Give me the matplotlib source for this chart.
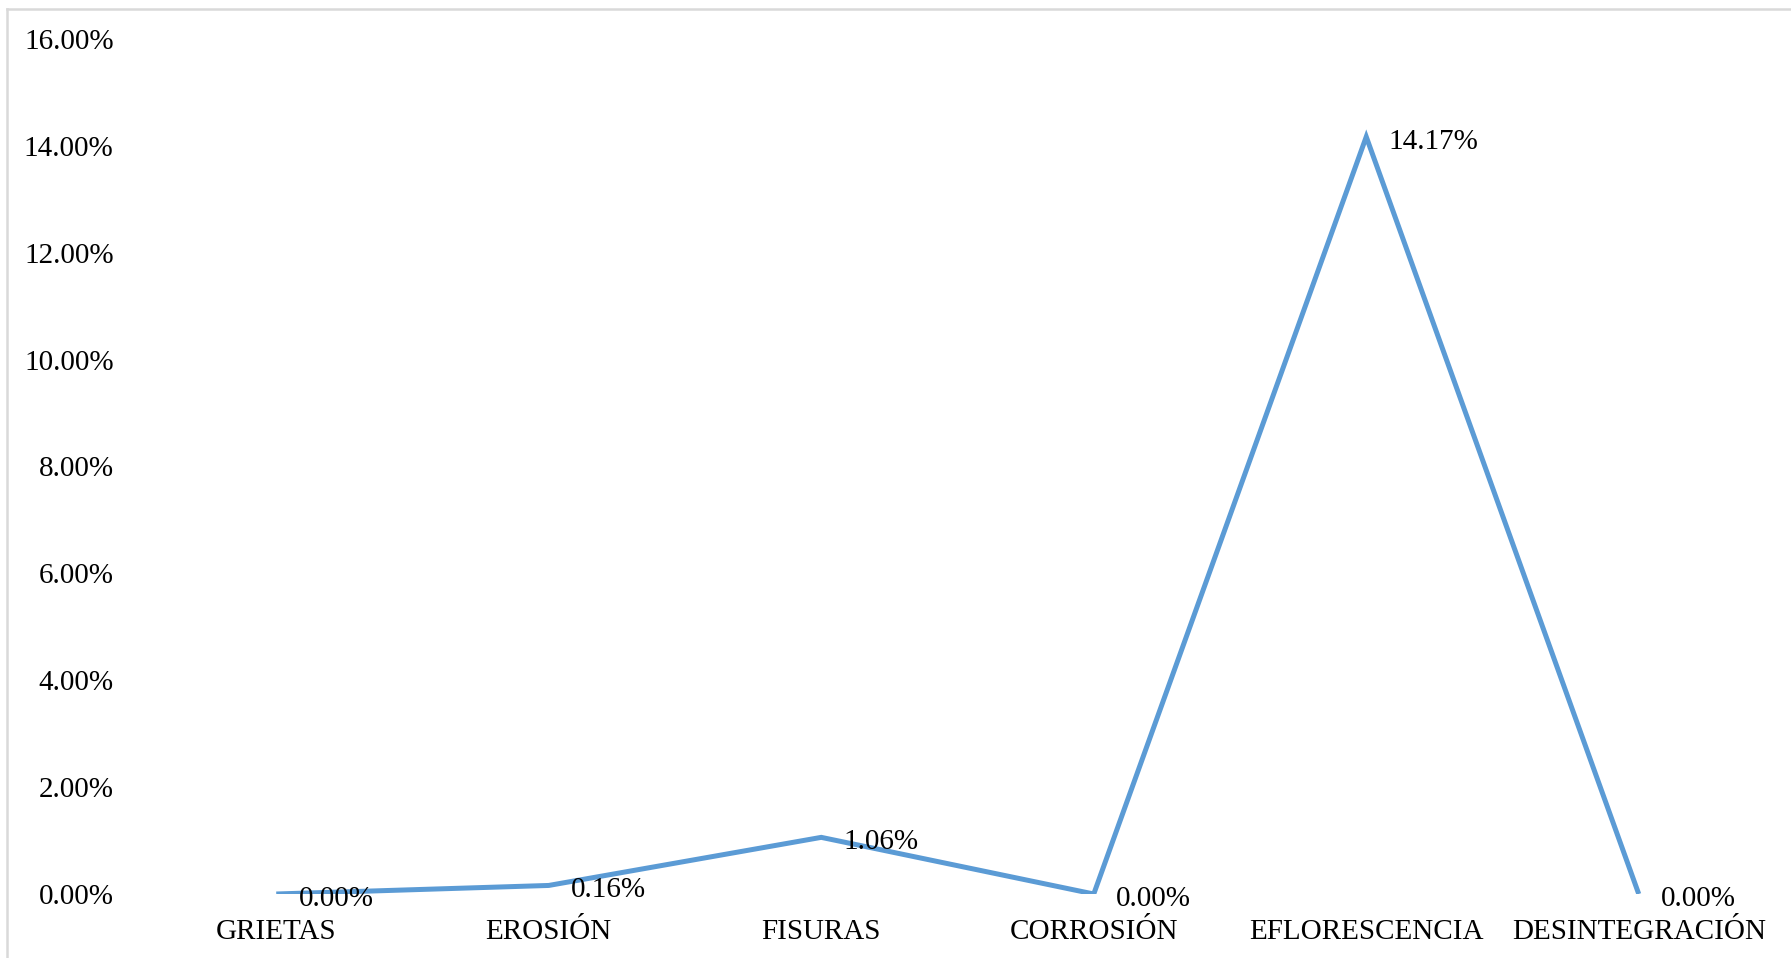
import matplotlib
matplotlib.use('Agg')
import matplotlib.pyplot as plt
from matplotlib.ticker import FuncFormatter
from matplotlib.lines import Line2D

categories = ['GRIETAS', 'EROSIÓN', 'FISURAS', 'CORROSIÓN', 'EFLORESCENCIA', 'DESINTEGRACIÓN']
values = [0.00, 0.16, 1.06, 0.00, 14.17, 0.00]
y_ticks = [0, 2, 4, 6, 8, 10, 12, 14, 16]

plt.rcParams['font.family'] = ['Liberation Serif', 'DejaVu Serif']

W, H = 1791, 958
fig = plt.figure(figsize=(W / 100, H / 100), dpi=100)
ax = fig.add_axes([140 / W, 64 / H, (1775 - 140) / W, (894 - 39) / H])

x = list(range(len(categories)))
ax.plot(x, values, color='#5B9BD5', linewidth=3.6, solid_capstyle='butt', solid_joinstyle='miter')

for xi, v in zip(x, values):
    ax.annotate(f'{v:.2f}%', (xi, v), xytext=(16, -3.5), textcoords='offset points',
                ha='left', va='center', fontsize=21, color='black')

ax.set_xlim(-0.5, len(categories) - 0.5)
ax.set_ylim(0, 16)
ax.set_xticks(x)
ax.set_xticklabels(categories, fontsize=21)
ax.set_yticks(y_ticks)
ax.yaxis.set_major_formatter(FuncFormatter(lambda v, p: f'{v:.2f}%'))
ax.tick_params(axis='y', length=0, pad=19, labelsize=21)
ax.tick_params(axis='x', length=0, pad=18, labelsize=21)
for s in ax.spines.values():
    s.set_visible(False)

# light grey frame (top and left edges visible in the reference)
fig.add_artist(Line2D([7.5 / W, 7.5 / W], [0, 1 - 8.5 / H], transform=fig.transFigure,
                      color='#D9D9D9', linewidth=1.8))
fig.add_artist(Line2D([7.5 / W, 1], [1 - 8.5 / H, 1 - 8.5 / H], transform=fig.transFigure,
                      color='#D9D9D9', linewidth=1.8))

fig.savefig('out.png', dpi=100)
